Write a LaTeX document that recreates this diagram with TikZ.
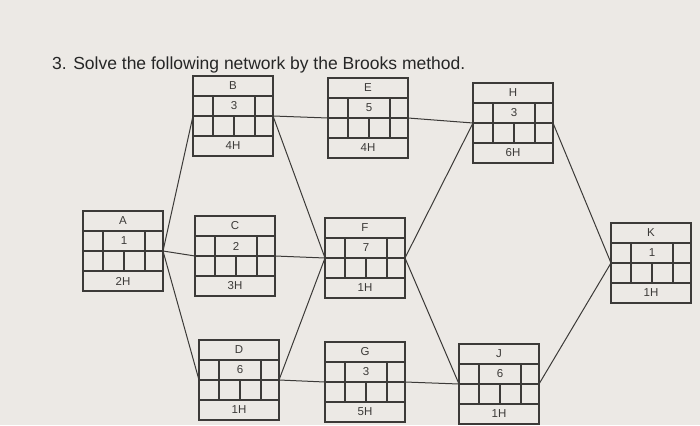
\documentclass[tikz,border=0pt]{standalone}
\usepackage{fontspec}
\setmainfont{Liberation Sans}
\definecolor{paper}{RGB}{236,233,229}
\definecolor{ink}{RGB}{60,58,56}
\tikzset{
  grid/.style={draw=ink,line width=1.1pt},
  conn/.style={draw=ink,line width=1pt},
  boxtxt/.style={font=\fontsize{11.5}{13}\selectfont,text=ink,inner sep=0pt},
  pics/act/.style n args={3}{code={
    \draw[grid] (0,0) rectangle (80,80);
    \draw[grid] (0,20) -- (80,20) (0,40) -- (80,40) (0,60) -- (80,60);
    \draw[grid] (20,20) -- (20,60) (62,20) -- (62,60) (41,40) -- (41,60);
    \node[boxtxt] at (40,10) {#1};
    \node[boxtxt] at (41,30) {#2};
    \node[boxtxt] at (40,70) {#3};
    \coordinate (-w) at (0,40);
    \coordinate (-e) at (80,40);
  }}
}
\begin{document}
\begin{tikzpicture}[x=1pt,y=-1pt]
\fill[paper] (0,0) rectangle (700,425);
\useasboundingbox (0,0) rectangle (700,425);
\node[anchor=base west,inner sep=0pt,font=\fontsize{17.5}{20}\selectfont,text=black!85] (title) at (52,70) {3. Solve the following network by the Brooks method.};
\pic (A) at (83,211) {act={A}{1}{2H}};
\pic (B) at (193,76) {act={B}{3}{4H}};
\pic (C) at (195,216) {act={C}{2}{3H}};
\pic (D) at (199,340) {act={D}{6}{1H}};
\pic (E) at (328,78) {act={E}{5}{4H}};
\pic (F) at (325,218) {act={F}{7}{1H}};
\pic (G) at (325,342) {act={G}{3}{5H}};
\pic (H) at (473,83) {act={H}{3}{6H}};
\pic (J) at (459,344) {act={J}{6}{1H}};
\pic (K) at (611,223) {act={K}{1}{1H}};
\draw[conn] (A-e) -- (B-w);
\draw[conn] (A-e) -- (C-w);
\draw[conn] (A-e) -- (D-w);
\draw[conn] (B-e) -- (E-w);
\draw[conn] (B-e) -- (F-w);
\draw[conn] (C-e) -- (F-w);
\draw[conn] (D-e) -- (F-w);
\draw[conn] (D-e) -- (G-w);
\draw[conn] (E-e) -- (H-w);
\draw[conn] (F-e) -- (H-w);
\draw[conn] (F-e) -- (J-w);
\draw[conn] (G-e) -- (J-w);
\draw[conn] (H-e) -- (K-w);
\draw[conn] (J-e) -- (K-w);
\end{tikzpicture}
\end{document}
